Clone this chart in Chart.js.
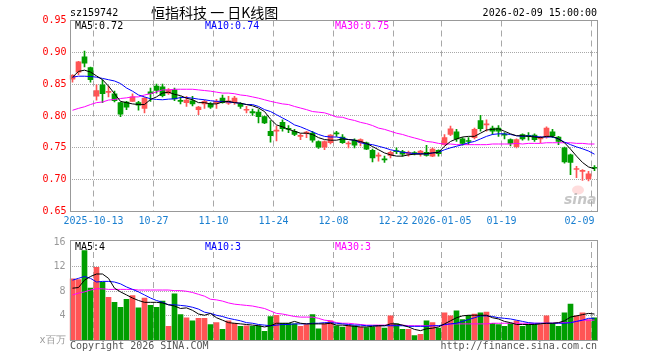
<!DOCTYPE html>
<html>
<head>
<meta charset="utf-8">
<script src="https://cdn.jsdelivr.net/npm/chart.js@4.4.1/dist/chart.umd.min.js"></script>
<style>
  body { margin: 0; background: #fff; width: 660px; height: 360px; overflow: hidden; position: relative; }
  canvas { position: absolute; left: 0; }
  #kline { top: 0; }
  #vol { top: 232px; }
</style>
</head>
<body>
<canvas id="kline" width="660" height="232"></canvas>
<canvas id="vol" width="660" height="128"></canvas>
<script>
// trading days shown on the chart
const dates = [
  '2025-09-29','2025-09-30','2025-10-09','2025-10-10','2025-10-13','2025-10-14','2025-10-15','2025-10-16','2025-10-17',
  '2025-10-20','2025-10-21','2025-10-22','2025-10-23','2025-10-24','2025-10-27','2025-10-28','2025-10-29','2025-10-30','2025-10-31',
  '2025-11-03','2025-11-04','2025-11-05','2025-11-06','2025-11-07','2025-11-10','2025-11-11','2025-11-12','2025-11-13','2025-11-14',
  '2025-11-17','2025-11-18','2025-11-19','2025-11-20','2025-11-21','2025-11-24','2025-11-25','2025-11-26','2025-11-27','2025-11-28',
  '2025-12-01','2025-12-02','2025-12-03','2025-12-04','2025-12-05','2025-12-08','2025-12-09','2025-12-10','2025-12-11','2025-12-12',
  '2025-12-15','2025-12-16','2025-12-17','2025-12-18','2025-12-19','2025-12-22','2025-12-23','2025-12-24','2025-12-25','2025-12-26',
  '2025-12-29','2025-12-30','2025-12-31',
  '2026-01-05','2026-01-06','2026-01-07','2026-01-08','2026-01-09','2026-01-12','2026-01-13','2026-01-14','2026-01-15','2026-01-16',
  '2026-01-19','2026-01-20','2026-01-21','2026-01-22','2026-01-23','2026-01-26','2026-01-27','2026-01-28','2026-01-29','2026-01-30',
  '2026-02-02','2026-02-03','2026-02-04','2026-02-05','2026-02-06','2026-02-09'
];

// dates that get an axis label, and the text shown
const tickDates = ['2025-10-13','2025-10-27','2025-11-10','2025-11-24','2025-12-08','2025-12-22','2026-01-05','2026-01-19','2026-02-09'];
const tickTexts = ['2025-10-13','10-27','11-10','11-24','12-08','12-22','2026-01-05','01-19','02-09    '];

const opens = [
  0.858,0.869,0.893,0.876,0.831,0.849,0.837,0.835,0.821,0.822,0.823,0.821,0.812,0.838,0.847,
  0.846,0.836,0.841,0.824,0.821,0.824,0.810,0.819,0.819,0.820,0.828,0.820,0.821,0.819,0.809,
  0.807,0.806,0.799,0.776,0.776,0.790,0.780,0.776,0.768,0.773,0.773,0.760,0.751,0.758,0.773,
  0.767,0.756,0.762,0.758,0.758,0.746,0.737,0.732,0.738,0.745,0.744,0.740,0.742,0.741,0.743,
  0.737,0.746,0.755,0.771,0.775,0.764,0.761,0.766,0.793,0.786,0.781,0.781,0.771,0.763,0.752,
  0.771,0.769,0.770,0.764,0.767,0.775,0.767,0.750,0.739,0.716,0.713,0.701,0.719
];
const highs = [
  0.865,0.886,0.902,0.877,0.849,0.857,0.847,0.839,0.822,0.823,0.835,0.823,0.829,0.844,0.850,
  0.850,0.843,0.844,0.830,0.831,0.831,0.815,0.825,0.821,0.826,0.833,0.831,0.831,0.821,0.815,
  0.811,0.810,0.800,0.793,0.784,0.794,0.785,0.779,0.772,0.776,0.776,0.761,0.761,0.771,0.776,
  0.771,0.760,0.764,0.764,0.759,0.748,0.742,0.737,0.745,0.750,0.746,0.745,0.744,0.746,0.754,
  0.750,0.747,0.771,0.784,0.779,0.766,0.766,0.781,0.801,0.794,0.784,0.785,0.774,0.764,0.764,
  0.772,0.774,0.772,0.768,0.783,0.779,0.768,0.751,0.740,0.721,0.716,0.713,0.722
];
const lows = [
  0.853,0.865,0.877,0.853,0.825,0.821,0.830,0.822,0.799,0.810,0.823,0.809,0.805,0.823,0.836,
  0.830,0.834,0.824,0.819,0.815,0.816,0.802,0.812,0.812,0.812,0.820,0.818,0.818,0.812,0.805,
  0.801,0.789,0.788,0.759,0.761,0.776,0.774,0.769,0.763,0.766,0.759,0.749,0.747,0.756,0.768,
  0.757,0.750,0.750,0.753,0.747,0.728,0.729,0.727,0.734,0.741,0.737,0.737,0.739,0.737,0.737,
  0.736,0.737,0.754,0.769,0.760,0.754,0.755,0.764,0.776,0.776,0.771,0.768,0.764,0.753,0.750,
  0.762,0.762,0.760,0.758,0.765,0.766,0.755,0.726,0.708,0.703,0.699,0.698,0.714
];
const closes = [
  0.864,0.885,0.883,0.857,0.840,0.835,0.838,0.824,0.803,0.814,0.830,0.817,0.828,0.835,0.840,
  0.832,0.841,0.827,0.823,0.825,0.819,0.814,0.823,0.814,0.823,0.821,0.824,0.828,0.815,0.810,
  0.805,0.799,0.789,0.769,0.778,0.780,0.779,0.771,0.769,0.774,0.762,0.751,0.760,0.770,0.772,
  0.758,0.757,0.754,0.763,0.748,0.734,0.738,0.731,0.743,0.744,0.740,0.743,0.741,0.745,0.738,
  0.748,0.741,0.766,0.780,0.764,0.757,0.760,0.779,0.780,0.787,0.776,0.776,0.770,0.757,0.763,
  0.764,0.768,0.763,0.765,0.781,0.769,0.760,0.728,0.727,0.717,0.714,0.709,0.718
];

// price moving averages
const ma5 = [
  0.861,0.870,0.872,0.869,0.863,0.857,0.847,0.835,0.823,0.821,0.819,0.818,0.818,0.826,0.830,
  0.836,0.8375,0.834,0.832,0.828,0.8255,0.821,0.821,0.819,0.819,0.822,0.823,0.821,0.820,0.818,
  0.816,0.8125,0.807,0.795,0.786,0.783,0.779,0.776,0.773,0.773,0.771,0.766,0.763,0.762,0.762,
  0.764,0.763,0.762,0.760,0.757,0.752,0.747,0.742,0.739,0.737,0.737,0.739,0.740,0.740,0.741,
  0.742,0.743,0.7525,0.760,0.764,0.767,0.768,0.768,0.773,0.778,0.779,0.780,0.776,0.772,0.769,
  0.769,0.768,0.767,0.766,0.768,0.768,0.764,0.758,0.748,0.737,0.727,0.720,0.717
];
const ma10 = [
  0.861,0.8625,0.8625,0.862,0.861,0.859,0.857,0.855,0.851,0.844,0.839,0.833,0.830,0.827,0.826,
  0.8255,0.8265,0.827,0.829,0.829,0.828,0.8265,0.8255,0.824,0.823,0.823,0.822,0.821,0.820,0.818,
  0.818,0.815,0.810,0.807,0.802,0.797,0.792,0.786,0.783,0.779,0.775,0.771,0.768,0.767,0.767,
  0.7655,0.763,0.762,0.758,0.756,0.755,0.7525,0.750,0.747,0.745,0.743,0.742,0.741,0.741,0.740,
  0.742,0.743,0.747,0.750,0.7525,0.755,0.758,0.760,0.764,0.768,0.771,0.772,0.772,0.771,0.769,
  0.768,0.769,0.768,0.767,0.767,0.767,0.764,0.759,0.755,0.7515,0.7485,0.745,0.740
];
const ma30 = [
  0.809,0.812,0.8145,0.818,0.821,0.822,0.825,0.826,0.8275,0.8285,0.830,0.830,0.833,0.835,0.838,
  0.841,0.841,0.842,0.842,0.842,0.842,0.841,0.840,0.839,0.8375,0.836,0.836,0.835,0.833,0.832,
  0.830,0.828,0.8255,0.823,0.821,0.819,0.818,0.815,0.8125,0.810,0.807,0.806,0.805,0.802,0.7985,
  0.798,0.795,0.793,0.790,0.788,0.785,0.781,0.779,0.776,0.773,0.771,0.768,0.7655,0.763,0.760,
  0.759,0.757,0.756,0.756,0.755,0.755,0.755,0.755,0.755,0.755,0.756,0.756,0.756,0.756,0.757,
  0.756,0.757,0.757,0.757,0.758,0.758,0.758,0.758,0.758,0.757,0.757,0.756,0.756
];

// volume in millions, and its moving averages
const volumes = [
  10.0,9.9,14.6,8.5,11.9,9.5,7.0,6.2,5.4,6.7,7.3,5.3,6.9,5.7,5.4,
  6.4,2.3,7.6,4.2,3.7,3.2,3.6,3.6,2.6,2.9,1.8,3.2,2.8,2.3,2.4,
  2.3,2.4,1.5,3.9,4.1,2.8,2.8,2.7,2.3,2.6,4.2,1.9,2.7,3.2,2.4,
  2.2,2.5,2.4,2.2,2.1,2.2,2.4,2.0,4.0,2.7,1.8,1.8,0.8,1.0,3.2,
  2.9,2.0,4.5,4.0,4.8,3.4,4.1,4.3,4.5,4.6,2.8,2.6,2.3,2.8,3.2,
  2.3,2.6,2.6,2.6,4.0,2.8,2.3,4.5,5.9,4.0,4.5,3.4,3.7
];
const vma5 = [
  8.5,8.6,9.8,10.4,10.8,10.8,10.1,8.5,7.9,7.4,6.9,6.5,6.2,6.2,6.2,
  6.1,5.8,5.6,5.2,5.3,4.9,4.3,4.1,4.4,3.7,3.3,2.9,2.8,2.7,2.6,
  2.5,2.4,2.2,2.4,2.8,2.8,2.8,3.1,2.8,2.7,2.7,2.7,2.7,2.8,2.5,
  2.5,2.4,2.3,2.2,2.2,2.3,2.4,2.4,2.7,2.7,2.5,2.2,1.8,1.6,1.9,
  2.0,2.2,2.7,3.2,3.7,4.0,4.1,4.1,4.1,4.1,3.7,3.5,3.1,2.9,2.6,
  2.6,2.6,2.6,2.7,2.8,2.8,2.9,3.2,3.8,4.0,4.2,4.4,4.3
];
const vma10 = [
  9.8,10.1,10.4,10.1,9.5,9.6,9.6,9.5,9.2,8.7,8.3,7.9,7.4,6.9,6.5,
  6.2,5.8,5.8,5.7,5.6,5.4,5.1,4.6,4.4,4.1,3.9,3.6,3.4,3.2,2.9,
  2.8,2.6,2.5,2.4,2.5,2.6,2.6,2.7,2.7,2.7,2.8,2.8,2.9,2.9,2.8,
  2.7,2.6,2.5,2.5,2.4,2.4,2.4,2.4,2.4,2.4,2.4,2.3,2.3,2.3,2.3,
  2.4,2.4,2.6,2.7,2.8,3.1,3.4,3.7,4.0,4.0,3.9,3.7,3.6,3.5,3.3,
  3.1,2.9,2.8,2.8,2.8,2.8,2.8,2.8,2.9,3.1,3.3,3.6,3.6
];
const vma30 = [
  7.4,7.7,7.9,8.2,8.4,8.4,8.3,8.3,8.3,8.3,8.3,8.2,8.2,8.2,8.2,
  8.2,8.2,8.1,8.1,8.0,7.8,7.5,7.2,6.7,6.6,6.4,6.1,5.9,5.8,5.7,
  5.6,5.4,5.2,4.8,4.4,4.3,4.1,3.9,3.8,3.8,3.8,3.6,3.3,3.2,2.9,
  2.8,2.8,2.7,2.6,2.5,2.5,2.5,2.5,2.5,2.5,2.5,2.4,2.4,2.4,2.4,
  2.4,2.4,2.5,2.7,2.7,2.7,2.7,2.7,2.7,2.7,2.8,2.8,2.8,2.8,2.8,
  2.8,2.8,2.8,2.8,2.8,2.8,2.9,2.9,2.9,3.1,3.3,3.3,3.3
];

const UP = '#ff5555', DOWN = '#009e00';
const GRID = '#a8a8a8', FRAME = '#999999';
const MONO = '"DejaVu Sans Mono", "Liberation Mono", monospace';
const candleColors = closes.map((c, i) => c >= opens[i] ? UP : DOWN);
const tickIdx = tickDates.map(d => dates.indexOf(d));

// draws the grey frame and the loose texts of a panel
const panelPlugin = {
  id: 'panel',
  afterDraw(chart, args, opts) {
    const ctx = chart.ctx;
    ctx.save();
    if (opts.logo) {
      // faint sina watermark
      ctx.fillStyle = 'rgba(255,120,120,0.25)';
      ctx.beginPath();
      ctx.ellipse(578, 190, 6, 4.5, 0, 0, Math.PI * 2);
      ctx.fill();
    }
    ctx.strokeStyle = FRAME;
    ctx.lineWidth = 1;
    ctx.strokeRect(opts.frame[0], opts.frame[1], opts.frame[2], opts.frame[3]);
    ctx.textBaseline = 'middle';
    opts.texts.forEach(t => {
      ctx.font = t.font || ('10px ' + MONO);
      ctx.fillStyle = t.color;
      ctx.textAlign = t.align || 'left';
      ctx.fillText(t.text, t.x, t.y);
    });
    ctx.restore();
  }
};

function xScale(showLabels) {
  return {
    type: 'category',
    offset: true,
    afterFit: s => { s.height = showLabels ? 20.5 : 19.5; },
    grid: {
      offset: true,
      drawTicks: false,
      color: c => tickIdx.includes(c.index) ? GRID : 'rgba(0,0,0,0)',
      lineWidth: 1
    },
    border: { display: false, dash: [6, 4] },
    ticks: {
      display: showLabels,
      autoSkip: false,
      maxRotation: 0,
      padding: 4,
      labelOffset: -3,
      color: '#1a7fd0',
      font: { family: MONO, size: 10 },
      callback: (v, i) => {
        const k = tickDates.indexOf(dates[i]);
        return k >= 0 ? tickTexts[k] : '';
      }
    }
  };
}

new Chart(document.getElementById('kline'), {
  data: {
    labels: dates,
    datasets: [
      { type: 'line', data: ma5, borderColor: '#000000', borderWidth: 1, pointRadius: 0, order: 0 },
      { type: 'line', data: ma10, borderColor: '#0000ff', borderWidth: 1, pointRadius: 0, order: 0 },
      { type: 'line', data: ma30, borderColor: '#ff00ff', borderWidth: 1, pointRadius: 0, order: 0 },
      { type: 'bar', data: opens.map((o, i) => [o, closes[i]]), backgroundColor: candleColors,
        barThickness: 5, minBarLength: 1, grouped: false, order: 1 },
      { type: 'bar', data: lows.map((l, i) => [l, highs[i]]), backgroundColor: candleColors,
        barThickness: 1, grouped: false, order: 2 }
    ]
  },
  options: {
    responsive: false,
    animation: false,
    layout: { padding: { left: 0, top: 20.5, right: 62.5, bottom: 0 } },
    plugins: {
      legend: { display: false },
      tooltip: { enabled: false },
      panel: {
        logo: true,
        frame: [70.5, 20.5, 527, 191],
        texts: [
          { text: 'sz159742', x: 70, y: 13, color: '#000' },
          { text: '恒指科技 一 日K线图', x: 151, y: 13, color: '#000', font: '14px "Noto Sans CJK SC"' },
          { text: '2026-02-09 15:00:00', x: 597, y: 13, color: '#000', align: 'right' },
          { text: 'MA5:0.72', x: 75, y: 26, color: '#000' },
          { text: 'MA10:0.74', x: 205, y: 26, color: '#0000ff' },
          { text: 'MA30:0.75', x: 335, y: 26, color: '#ff00ff' },
          { text: 'sina', x: 564, y: 200, color: 'rgba(160,160,160,0.6)', font: 'italic bold 14px "DejaVu Sans"' }
        ]
      }
    },
    scales: {
      x: xScale(true),
      y: {
        min: 0.65,
        max: 0.95,
        afterFit: s => { s.width = 69.5; },
        grid: {
          drawTicks: false,
          color: c => (c.tick && c.tick.value > 0.66 && c.tick.value < 0.94) ? GRID : 'rgba(0,0,0,0)'
        },
        border: { display: false, dash: [1, 1] },
        ticks: {
          stepSize: 0.05,
          padding: 3,
          color: '#ff0000',
          font: { family: MONO, size: 10 },
          callback: v => v.toFixed(2)
        }
      }
    }
  },
  plugins: [panelPlugin]
});

new Chart(document.getElementById('vol'), {
  data: {
    labels: dates,
    datasets: [
      { type: 'line', data: vma5, borderColor: '#000000', borderWidth: 1, pointRadius: 0, order: 0 },
      { type: 'line', data: vma10, borderColor: '#0000ff', borderWidth: 1, pointRadius: 0, order: 0 },
      { type: 'line', data: vma30, borderColor: '#ff00ff', borderWidth: 1, pointRadius: 0, order: 0 },
      { type: 'bar', data: volumes, backgroundColor: candleColors, barThickness: 5, grouped: false, order: 1 }
    ]
  },
  options: {
    responsive: false,
    animation: false,
    layout: { padding: { left: 0, top: 8.5, right: 62.5, bottom: 0 } },
    plugins: {
      legend: { display: false },
      tooltip: { enabled: false },
      panel: {
        frame: [70.5, 8.5, 527, 100],
        texts: [
          { text: 'MA5:4', x: 75, y: 15, color: '#000' },
          { text: 'MA10:3', x: 205, y: 15, color: '#0000ff' },
          { text: 'MA30:3', x: 335, y: 15, color: '#ff00ff' },
          { text: 'Copyright 2026 SINA.COM', x: 70, y: 114, color: '#555' },
          { text: 'http://finance.sina.com.cn', x: 597, y: 114, color: '#555', align: 'right' }
        ]
      }
    },
    scales: {
      x: xScale(false),
      y: {
        min: 0,
        max: 16,
        afterFit: s => { s.width = 69.5; },
        grid: {
          drawTicks: false,
          color: c => (c.tick && c.tick.value > 0 && c.tick.value < 16) ? GRID : 'rgba(0,0,0,0)'
        },
        border: { display: false, dash: [1, 1] },
        ticks: {
          stepSize: 4,
          padding: 4,
          color: '#999999',
          font: { family: MONO, size: 10 },
          callback: v => v === 0 ? 'x百万' : v
        }
      }
    }
  },
  plugins: [panelPlugin]
});
</script>
</body>
</html>
